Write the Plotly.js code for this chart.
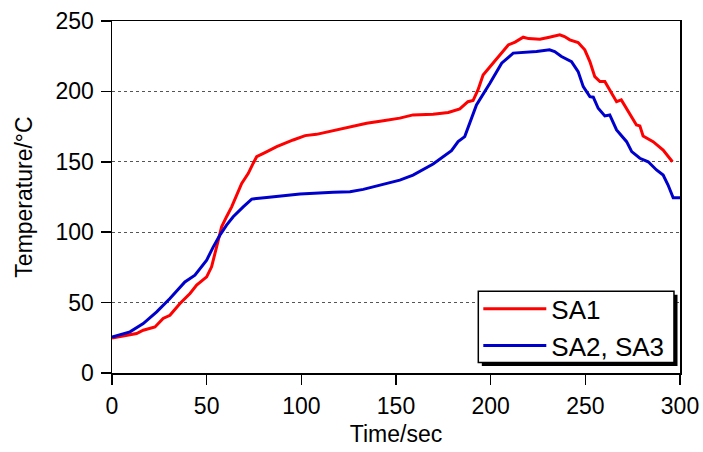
<!DOCTYPE html>
<html>
<head>
<meta charset="utf-8">
<script src="https://cdn.plot.ly/plotly-3.0.1.min.js"></script>
<style>html,body{margin:0;padding:0;background:#fff;}#chart{width:703px;height:452px;}</style>
</head>
<body>
<div id="chart"></div>
<script>
const sa1Time = [0,5,13,16.5,22.7,27,30.6,35.9,41.2,44.7,50,52.6,55.3,57.9,60.5,63.2,68.5,72,74.6,76.4,80.8,87,95.7,102,108,116.9,125.7,134.5,143.3,152,159,169.6,177.6,183.7,188,190.7,193.3,196,201.2,204.8,209.3,212.9,217.2,220,226,231,236.5,239,241.8,246.2,249.7,252.4,255,257.7,260.3,262.9,266.5,269,272.6,277,278.8,280.5,285.8,291.1,296];
const sa1Temp = [24.9,26,28,30.4,32.7,38.7,41,49.4,56.5,62.4,68.3,75.4,89.6,103.8,111,118,134.7,141.8,149,153.6,156.5,160.7,165.5,168.6,169.5,172,175,177.4,179.2,181,183.3,183.8,185,187.6,192.7,193.5,201,211.7,220,226,233,235,238.5,237.5,237.1,238.5,240.2,239,236.6,234.7,229.5,221.2,210.5,207,207,201,192.7,194,185.6,176.2,175.5,168.3,164.3,158.4,150];
const sa23Time = [0,9.5,16.5,23.6,30.6,38.5,43.8,50,53.5,57,60.5,64,69.3,73.8,81.7,99.3,116.9,125.7,132.7,143.3,152,159,169.6,179.3,182.8,186.3,189,192.5,199.6,205.8,211.9,224.2,231.1,233.8,237.4,242.7,246.2,248.9,252.4,254.2,256.8,260.3,262.9,266.5,271.8,274.5,278.8,283.2,287.6,291.1,293.7,296.4,300];
const sa23Temp = [25.6,29.2,35.1,43.4,52.9,64.7,69.5,80.2,89.6,97.9,105,111,118,123.5,124.7,127.1,128.3,128.7,130.4,134.2,137,140.6,148.4,157.9,164.3,167.9,177.4,190.4,205.8,220,227.2,228.3,229.5,228.3,224.8,221.2,214.1,203.4,196.3,195.9,188,182.6,183.3,172.6,164.3,157.2,152.5,150,144.2,140.6,133.5,124.5,124.5];
const seriesNames = ["SA1", "SA2, SA3"];
const xTicks = [0,50,100,150,200,250,300];
const yTicks = [0,50,100,150,200,250];

const font = "Arial, 'Liberation Sans', sans-serif";
const traces = [
  {x: sa1Time, y: sa1Temp, name: seriesNames[0], mode: "lines", line: {color: "#ff0000", width: 3}},
  {x: sa23Time, y: sa23Temp, name: seriesNames[1], mode: "lines", line: {color: "#0000cc", width: 3}}
];
// legend frame (box + drop shadow) in paper coordinates
const box = {x0: 0.6449, x1: 0.9894, y0: 0.0296, y1: 0.2323};
const sh = {dx: 0.0062, dy: 0.0100};
const layout = {
  width: 703, height: 452,
  margin: {l: 112, r: 23, t: 21, b: 79},
  paper_bgcolor: "#fff", plot_bgcolor: "#fff",
  font: {family: font, color: "#000", size: 23},
  showlegend: true,
  legend: {
    x: 0.6449, xanchor: "left", y: 0.13, yanchor: "middle",
    bgcolor: "rgba(0,0,0,0)", borderwidth: 0,
    font: {size: 26, family: font}, itemwidth: 63, tracegroupgap: 0
  },
  xaxis: {
    range: [0, 300], tickvals: xTicks, ticktext: xTicks.map(String),
    ticks: "outside", ticklen: 10, tickwidth: 1.5, tickcolor: "#000",
    showline: true, linecolor: "#000", linewidth: 1.5, mirror: true,
    showgrid: false, zeroline: false, ticklabelstandoff: 2,
    tickfont: {size: 23},
    title: {text: "Time/sec", font: {size: 23}, standoff: 8}
  },
  yaxis: {
    range: [0, 250], tickvals: yTicks, ticktext: yTicks.map(String),
    ticks: "outside", ticklen: 10, tickwidth: 1.5, tickcolor: "#000",
    showline: true, linecolor: "#000", linewidth: 1.5, mirror: true,
    showgrid: true, gridcolor: "#555", gridwidth: 1, griddash: "dot",
    zeroline: false, ticklabelstandoff: 2,
    tickfont: {size: 23},
    title: {text: "Temperature/°C", font: {size: 23}, standoff: 16}
  },
  shapes: [
    {type: "rect", xref: "paper", yref: "paper",
     x0: box.x0 + sh.dx, x1: box.x1 + sh.dx, y0: box.y0 - sh.dy, y1: box.y1 - sh.dy,
     fillcolor: "#000", line: {width: 0}, layer: "above"},
    {type: "rect", xref: "paper", yref: "paper",
     x0: box.x0, x1: box.x1, y0: box.y0, y1: box.y1,
     fillcolor: "#fff", line: {color: "#000", width: 1.5}, layer: "above"}
  ]
};
Plotly.newPlot("chart", traces, layout, {staticPlot: true, displayModeBar: false});
</script>
</body>
</html>
